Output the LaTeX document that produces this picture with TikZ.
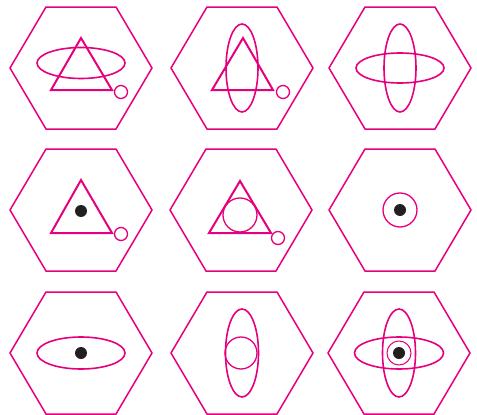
\documentclass[tikz,border=0pt]{standalone}
\definecolor{mag}{RGB}{230,0,126}
\definecolor{dotc}{RGB}{35,31,32}
\begin{document}
\begin{tikzpicture}[x=1pt,y=-1pt,
  hexa/.style={draw=mag,line width=1.5pt,line join=miter},
  tri/.style={draw=mag,line width=2pt,line join=miter},
  ell/.style={draw=mag,line width=1.6pt},
  ring/.style={draw=mag,line width=1.3pt},
  dotn/.style={fill=dotc}]
\useasboundingbox (0,0) rectangle (477,415);
\foreach \cx/\cy [count=\i] in {81/68,242/68,400/68,81/210,241/210,400/210,81/353,242/353,399/353}{
  \draw[hexa] (\cx-71,\cy) -- (\cx-35,\cy-61) -- (\cx+35,\cy-61) -- (\cx+71,\cy) -- (\cx+35,\cy+61) -- (\cx-35,\cy+61) -- cycle;
}
% row 1 cell 1
\draw[ell] (81,63) ellipse [x radius=44,y radius=15.5];
\draw[tri] (81,38) -- (112,90) -- (51,90) -- cycle;
\draw[ring] (121,92) circle [radius=6.5];
% row 1 cell 2
\draw[ell] (242,68) ellipse [x radius=16,y radius=44];
\draw[tri] (243,38) -- (273,90) -- (212,90) -- cycle;
\draw[ring] (283,92) circle [radius=6.5];
% row 1 cell 3
\draw[ell] (400,68) ellipse [x radius=44,y radius=15];
\draw[ell] (400,68) ellipse [x radius=16,y radius=44];
% row 2 cell 1
\draw[tri] (81,180) -- (112,233) -- (51,233) -- cycle;
\fill[dotn] (81,211) circle [radius=6];
\draw[ring] (121,234) circle [radius=6.5];
% row 2 cell 2
\draw[tri] (240,181) -- (271,233) -- (209,233) -- cycle;
\draw[ring] (240,215) circle [radius=17];
\draw[ring] (278,238) circle [radius=6.5];
% row 2 cell 3
\draw[ring] (400,210) circle [radius=17];
\fill[dotn] (400,210) circle [radius=6];
% row 3 cell 1
\draw[ell] (81,353) ellipse [x radius=44,y radius=16];
\fill[dotn] (81,353) circle [radius=6];
% row 3 cell 2
\draw[ell] (242,353) ellipse [x radius=16.5,y radius=44];
\draw[ring] (241,353) circle [radius=16];
% row 3 cell 3
\draw[ell] (399,353) ellipse [x radius=44.5,y radius=16];
\draw[ell] (399,353) ellipse [x radius=16.5,y radius=44];
\draw[draw=mag,line width=1pt] (399,353) circle [radius=12];
\fill[dotn] (399,353) circle [radius=6];
\end{tikzpicture}
\end{document}
